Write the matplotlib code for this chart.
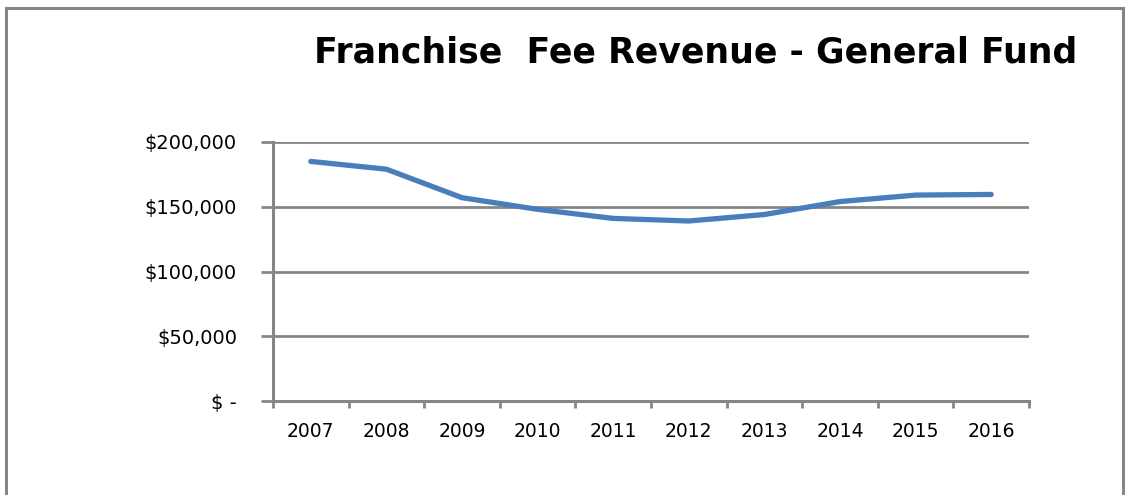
import matplotlib
matplotlib.use('Agg')
import matplotlib.pyplot as plt
from matplotlib.patches import Rectangle
import numpy as np

years = ['2007', '2008', '2009', '2010', '2011', '2012', '2013', '2014', '2015', '2016']
revenue = [185000, 179000, 157000, 148000, 141000, 139000, 144000, 154000, 159000, 159500]
y_ticks = [0, 50000, 100000, 150000, 200000]
y_labels = ['$ -', '$50,000', '$100,000', '$150,000', '$200,000']

GRAY = '#868686'
BLUE = '#4a7ebb'

plt.rcParams['font.family'] = ['DejaVu Sans']

W, H = 1126, 495
fig = plt.figure(figsize=(W / 100, H / 100), dpi=100)

# outer chart frame (bottom edge runs off the picture)
fig.patches.append(Rectangle((6 / W, -0.05), 1117 / W, 1 - 8 / H + 0.05,
                             transform=fig.transFigure, fill=False,
                             edgecolor=GRAY, linewidth=2.2))

ax = fig.add_axes([273 / W, 1 - 401 / H, (1029 - 273) / W, (401 - 142) / H])

x = np.arange(len(years))
ax.plot(x, revenue, color=BLUE, linewidth=3.8, solid_capstyle='round')

ax.set_xlim(-0.5, len(years) - 0.5)
ax.set_ylim(0, 200000)

ax.set_yticks(y_ticks)
ax.set_yticklabels(y_labels)
ax.yaxis.grid(True, color=GRAY, linewidth=2)
ax.set_axisbelow(True)

# ticks sit between categories, labels at the centres
ax.set_xticks(np.arange(-0.5, len(years)), minor=False)
ax.set_xticklabels([])
ax.set_xticks(x, minor=True)
ax.set_xticklabels(years, minor=True)

for s in ['top', 'right']:
    ax.spines[s].set_visible(False)
for s in ['left', 'bottom']:
    ax.spines[s].set_color(GRAY)
    ax.spines[s].set_linewidth(2.2)

ax.tick_params(axis='y', length=9, width=2, color=GRAY, labelsize=14, pad=17)
ax.tick_params(axis='x', which='major', length=5, width=2, color=GRAY)
ax.tick_params(axis='x', which='minor', length=0, labelsize=13.5, pad=15)

fig.text(696 / W, 1 - 63 / H, 'Franchise  Fee Revenue - General Fund',
         ha='center', va='baseline', fontsize=25, fontweight='bold', color='black')

fig.savefig('out.png', dpi=100)
